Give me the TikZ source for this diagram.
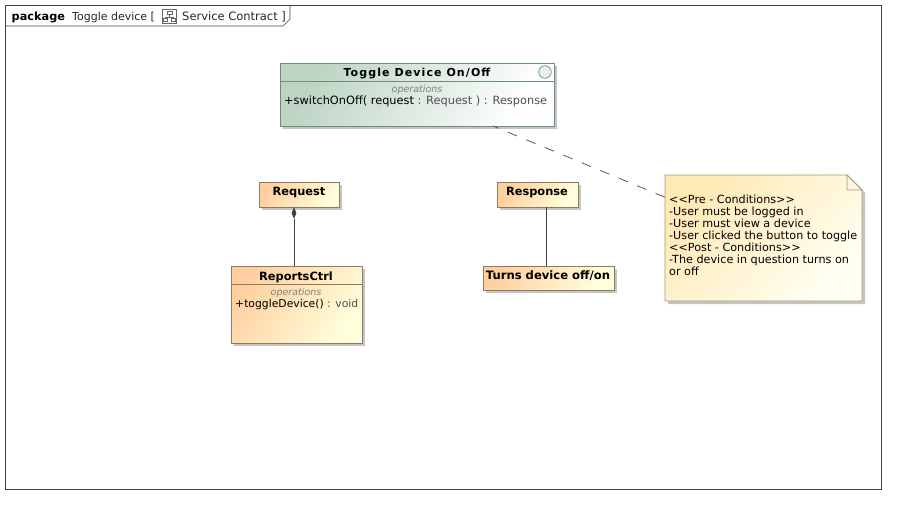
\documentclass[tikz,border=0pt]{standalone}
\usepackage{fontspec}
\setmainfont{DejaVu Sans}
\usepackage{tikz}
\usetikzlibrary{
        shadows,
        shapes,
        positioning
    }
\definecolor{greenleft}{HTML}{BDD4C4}
\definecolor{greenedge}{HTML}{6B8F78}
\definecolor{orangeleft}{HTML}{FFCF9F}
\definecolor{orangeright}{HTML}{FFFFDC}
\definecolor{orangeedge}{HTML}{8C7B5E}
\definecolor{noteleft}{HTML}{FFE9B5}
\definecolor{noteright}{HTML}{FFFFF2}
\definecolor{noteedge}{HTML}{A39A70}
\definecolor{softgray}{HTML}{505050}
\begin{document}
\begin{tikzpicture}
[x=1pt, y=-1pt,
baseshape/.style={rectangle, inner sep=0pt, outer sep=0pt, line width=0.9pt, drop shadow={shadow xshift=3pt, shadow yshift=-3pt, fill=black!45}},
greenbox/.style={baseshape, draw=greenedge, left color=greenleft, right color=white, shading angle=60},
orangebox/.style={baseshape, draw=orangeedge, left color=orangeleft, right color=orangeright, shading angle=55},
titletext/.style={inner sep=0pt, font=\fontsize{11.4}{13}\selectfont\bfseries},
opstext/.style={inner sep=0pt, text=gray, font=\fontsize{9.5}{11}\selectfont\itshape},
membertext/.style={inner sep=0pt, text=softgray, font=\fontsize{11.35}{13}\selectfont},
arrow/.style={line width=0.7pt, draw=black!75},
]
\useasboundingbox (0,0) rectangle (906,514);
% frame
\node (frame) [rectangle, draw=black!75, line width=0.7pt, minimum width=876pt, minimum height=484pt, inner sep=0pt] at (443,247) {};
\draw[black!75, line width=0.7pt] (290,5) -- (290,19) -- (283,26) -- (5,26);
\node (frametitle) [titletext, font=\fontsize{11.3}{13}\selectfont\bfseries, anchor=base west] at (11.5,20) {package};
\node (framename) [membertext, text=black!85, font=\fontsize{11}{13}\selectfont, anchor=base west] at (72,20) {Toggle device [};
\node (framekind) [membertext, text=black!85, font=\fontsize{11.5}{13}\selectfont, anchor=base west] at (182,20) {Service Contract ]};
\node (frameicon) [rectangle, draw=black!60, fill=white, line width=0.6pt, minimum width=14pt, minimum height=14pt, inner sep=0pt] at (169.5,16.5) {};
\draw[black!60, line width=0.6pt] (167,11.5) rectangle (172,14.5) (169.5,14.5) -- (169.5,17) (165,17) -- (174,17) (163.5,18) rectangle (167.5,21.5) (171.5,18) rectangle (175.5,21.5);

% boxes
\node (toggle) [greenbox, minimum width=274pt, minimum height=63pt] at (417,94.5) {};
\draw[greenedge, line width=0.8pt] ([yshift=-18pt]toggle.north west) -- ([yshift=-18pt]toggle.north east);
\node (toggletitle) [titletext, font=\fontsize{11}{13}\selectfont\bfseries\addfontfeatures{LetterSpace=10}, anchor=base] at (417,76.5) {Toggle Device On/Off};
\node (togglecircle) [circle, draw=greenedge, fill=white!70!greenleft, line width=0.7pt, minimum size=12.5pt, inner sep=0pt] at (545,72) {};
\node (toggleops) [opstext, anchor=base] at (417,92.5) {operations};
\node (togglemember) [membertext, anchor=base west] at (284,104) {\textcolor{black}{+switchOnOff( request} : Request ) : Response};

\node (request) [orangebox, minimum width=80pt, minimum height=25pt] at (299,194.5) {};
\node (requesttitle) [titletext, anchor=base] at (299,195) {Request};

\node (reports) [orangebox, minimum width=131pt, minimum height=77pt] at (296.5,304.5) {};
\draw[orangeedge, line width=0.8pt] ([yshift=-18pt]reports.north west) -- ([yshift=-18pt]reports.north east);
\node (reportstitle) [titletext, anchor=base] at (296,280) {ReportsCtrl};
\node (reportsops) [opstext, anchor=base] at (296,295) {operations};
\node (reportsmember) [membertext, font=\fontsize{10.8}{13}\selectfont, anchor=base west] at (235,307) {\textcolor{black}{+toggleDevice()} : void};

\node (response) [orangebox, minimum width=81pt, minimum height=25pt] at (537.5,194.5) {};
\node (responsetitle) [titletext, anchor=base] at (537,195) {Response};

\node (turns) [orangebox, minimum width=131pt, minimum height=24pt] at (548.5,278) {};
\node (turnstitle) [titletext, font=\fontsize{11.6}{13}\selectfont\bfseries, anchor=base] at (548,279) {Turns device off/on};

% note
\draw[noteedge, line width=0.9pt, left color=noteleft, right color=noteright, shading angle=45, drop shadow={shadow xshift=3pt, shadow yshift=-3pt, fill=black!45}]
  (665,175) -- (847,175) -- (862,190) -- (862,301) -- (665,301) -- cycle;
\draw[noteedge, line width=0.9pt, fill=noteleft!40!white] (847,175) -- (847,190) -- (862,190) -- cycle;
\node (note) [rectangle, minimum width=197pt, minimum height=126pt, inner sep=0pt] at (763.5,238) {};
\node (notetext) [inner sep=0pt, anchor=north west, align=left, font=\fontsize{11.2}{12}\selectfont] at (669,195)
  {{<}{<}Pre - Conditions{>}{>}\\-User must be logged in\\-User must view a device\\-User clicked the button to toggle\\{<}{<}Post - Conditions{>}{>}\\-The device in question turns on\\or off};

% connectors
\node (whole) [diamond, fill=black!75, minimum width=5pt, minimum height=12pt, inner sep=0pt] at (294,213) {};
\draw[arrow] (whole) -- (whole |- reports.north);
\draw[arrow] ([xshift=9pt]response.south) -- ([xshift=9pt]response.south |- turns.north);
\draw[arrow, line width=0.8pt, draw=black!65, dash pattern=on 10pt off 10pt, dash phase=4pt] (toggle) -- (note);
\end{tikzpicture}
\end{document}
